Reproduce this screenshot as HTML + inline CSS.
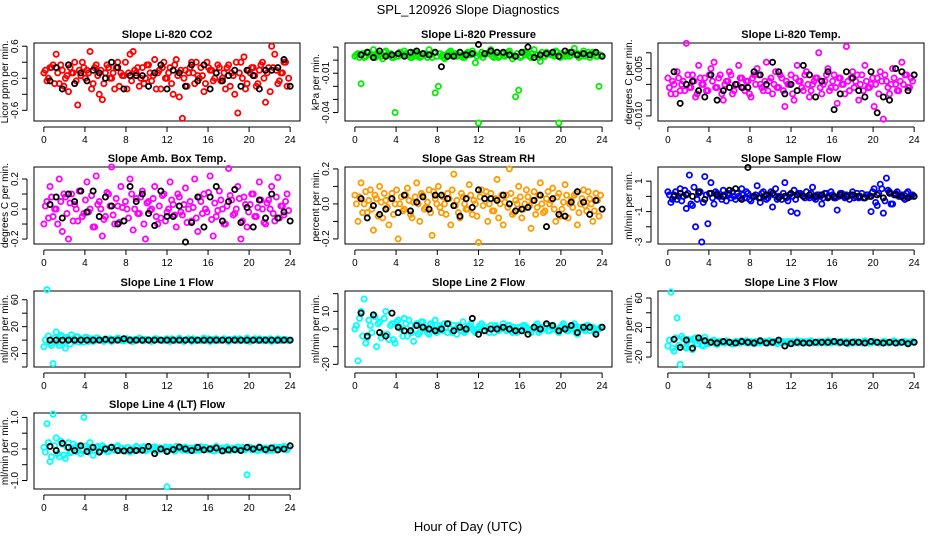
<!DOCTYPE html>
<html><head><meta charset="utf-8"><style>
body{margin:0;background:#fff}
svg{display:block;font-family:"Liberation Sans",sans-serif}
</style></head><body>
<svg id="chart" width="936" height="540" viewBox="0 0 936 540">
<text x="468" y="14" text-anchor="middle" font-size="13">SPL_120926  Slope Diagnostics</text>
<text x="468" y="531" text-anchor="middle" font-size="13">Hour of Day (UTC)</text>
</svg>
<script>
const hoursC=[0,0.3,0.6,0.9,1.2,1.5,1.8,2.1,2.4,2.7,3,3.3,3.6,3.9,4.2,4.5,4.8,5.1,5.4,5.7,6,6.3,6.6,6.9,7.2,7.5,7.8,8.1,8.4,8.7,9,9.3,9.6,9.9,10.2,10.5,10.8,11.1,11.4,11.7,12,12.3,12.6,12.9,13.2,13.5,13.8,14.1,14.4,14.7,15,15.3,15.6,15.9,16.2,16.5,16.8,17.1,17.4,17.7,18,18.3,18.6,18.9,19.2,19.5,19.8,20.1,20.4,20.7,21,21.3,21.6,21.9,22.2,22.5,22.8,23.1,23.4,23.7];
const hoursC2=[0.15,0.45,0.75,1.05,1.35,1.65,1.95,2.25,2.55,2.85,3.15,3.45,3.75,4.05,4.35,4.65,4.95,5.25,5.55,5.85,6.15,6.45,6.75,7.05,7.35,7.65,7.95,8.25,8.55,8.85,9.15,9.45,9.75,10.05,10.35,10.65,10.95,11.25,11.55,11.85,12.15,12.45,12.75,13.05,13.35,13.65,13.95,14.25,14.55,14.85,15.15,15.45,15.75,16.05,16.35,16.65,16.95,17.25,17.55,17.85,18.15,18.45,18.75,19.05,19.35,19.65,19.95,20.25,20.55,20.85,21.15,21.45,21.75,22.05,22.35,22.65,22.95,23.25,23.55,23.85];
const hoursK=[0.6,1.2,1.8,2.4,3,3.6,4.2,4.8,5.4,6,6.6,7.2,7.8,8.4,9,9.6,10.2,10.8,11.4,12,12.6,13.2,13.8,14.4,15,15.6,16.2,16.8,17.4,18,18.6,19.2,19.8,20.4,21,21.6,22.2,22.8,23.4,24];
const xTicks=[0,4,8,12,16,20,24];

const co2C=[0.1,-0.05,0.2,0.25,0.45,-0.1,0.15,0,-0.25,0.1,0.3,-0.5,0.05,0.2,0.15,0.5,-0.1,0.25,-0.3,-0.4,0.1,0.2,0,-0.2,0.3,0.1,0.05,-0.2,0.45,0.5,0.1,-0.15,0.2,0,0.25,-0.05,0.35,0.1,-0.2,0.3,0,0.2,-0.3,0.35,-0.35,-0.75,0.15,0.1,0.3,-0.1,0.05,0.2,-0.25,0.3,0.15,-0.05,0.1,0.2,0,-0.2,0.25,0.1,-0.3,-0.65,0.3,0.4,-0.1,0.1,0.2,-0.15,0.15,0.3,-0.45,0.2,0.6,0.45,-0.1,0.1,0.3,-0.15];
const co2C2=[0.15,0,0.2,-0.1,0.1,0.25,-0.15,0.05,0.2,0.1,-0.05,0.15,0.3,0,0.1,-0.2,0.2,0.05,0.15,-0.1,0.25,0,0.1,0.2,-0.15,0.05,0.3,0.1,-0.05,0.15,0.2,0,-0.1,0.25,0.1,0.05,-0.2,0.15,0.2,0,0.1,-0.1,0.25,0.05,0.15,0,-0.15,0.2,0.1,0.3,0,0.05,-0.1,0.2,0.15,0,0.25,-0.05,0.1,0.2,-0.15,0.05,0.3,0.1,0,-0.2,0.15,0.2,0.05,-0.1,0.25,0,0.1,-0.25,0.2,0.15,-0.05,0.1,0.3,0];
const co2K=[-0.05,0.2,-0.2,0.25,-0.1,0.1,-0.05,0.15,0.1,0,0.3,0.2,-0.2,0.05,0.05,0.05,-0.15,0.1,0.25,-0.2,0.15,0.1,-0.15,0.25,-0.05,0.25,-0.2,0.1,-0.05,0.05,0.15,-0.15,0.15,0.05,-0.2,0.15,0.15,0.2,0.35,-0.15];
const presC=[3,5,-18,2,6,4,8,3,5,1,7,4,2,-40,3,5,7,4,2,6,3,2,5,4,8,2,-25,-20,3,1,5,7,4,3,6,2,5,4,7,-2,-48,6,4,5,8,2,6,3,5,4,7,1,-28,-23,3,6,5,2,8,4,-1,3,6,5,4,7,-48,5,3,6,4,9,5,3,7,4,2,6,3,-20];
const presC2=[4,2,5,3,6,4,2,5,3,6,4,5,2,3,6,4,5,3,2,6,4,3,5,2,4,6,3,5,4,2,6,3,5,4,3,2,6,4,5,3,4,2,5,6,3,4,2,5,3,6,4,3,5,2,6,4,3,5,4,2,6,3,5,4,3,6,2,4,5,3,6,4,2,5,3,6,4,5,3,4];
const presK=[4,6,2,7,3,4,5,3,6,7,5,4,6,-5,3,3,6,4,5,12,5,7,6,6,4,3,6,10,2,4,5,6,3,7,6,4,5,4,6,3];
const tempC=[2,-3,0,4,-2,1,13,-1,3,-4,6,0,2,-2,5,7,-1,3,-5,1,4,-3,0,6,2,-2,1,-4,3,5,0,-2,7,1,-3,4,-1,2,-7,0,3,-5,6,1,-2,4,-4,0,2,10,-3,1,5,-1,3,-6,2,0,12,-2,4,1,-5,3,6,-1,0,-7,2,4,-11,1,-3,5,0,-2,7,3,-1,2];
const tempC2=[-1,1,-3,2,0,-2,3,-1,1,-3,2,0,-2,3,1,-1,2,-3,0,1,3,-2,0,2,-1,1,-3,2,0,3,-1,1,-2,2,0,-1,3,-2,1,0,-3,2,1,-1,3,0,-2,1,2,-1,0,3,-2,1,-1,2,0,-3,1,2,-1,3,0,-2,1,-1,2,0,-3,1,3,-1,0,2,-2,1,0,3,-1,1];
const tempK=[4,-6,0,1,-2,-4,3,-5,-2,-1,0,-1,-1,4,3,0,7,4,-3,0,-2,6,3,-4,1,4,-8,-3,4,2,-2,-4,4,-9,-4,-5,5,4,-2,3];
const ambC=[-10,5,15,-5,0,20,-15,8,-20,10,3,-8,12,-3,18,0,-12,22,5,-18,-5,10,28,-10,2,15,-8,0,20,-14,7,-3,12,-20,5,0,15,-10,-6,10,-2,18,3,-12,8,-4,14,0,-8,20,-15,5,10,-2,22,-18,-5,12,0,-10,27,6,-3,15,-20,8,-12,3,10,-5,18,0,-10,6,15,-8,21,2,-4,10];
const ambC2=[2,-6,8,0,-10,5,10,-3,4,-8,0,12,-5,6,-2,9,-12,3,0,-7,11,2,-4,7,-9,1,5,-6,10,0,-3,8,-10,4,-1,7,-5,2,9,-8,0,6,-4,10,-2,3,-9,5,1,-6,8,-3,0,11,-7,4,-1,6,-10,2,9,-4,0,7,-8,3,-2,10,-5,1,6,-9,4,0,-3,8,-6,2,5,-1];
const ambK=[3,8,-6,10,5,12,-2,12,-5,8,2,-10,-8,15,5,10,-3,-11,12,-5,-5,2,-22,-9,8,-12,8,15,-8,5,13,-9,1,-12,6,-6,10,-6,-2,-8];
const rhC=[5,-10,12,0,-5,8,-15,3,10,-8,2,-12,6,0,-20,4,-3,9,-6,1,12,-10,5,-2,8,-18,3,10,-5,0,6,-12,17,2,-8,4,-3,11,-6,0,-22,8,3,-10,6,-4,14,0,-12,5,20,-6,2,10,-8,0,4,-14,7,-2,12,-5,3,0,9,-10,6,-3,11,-8,2,5,-12,0,8,-4,3,-10,6,-7];
const rhC2=[0,4,-5,7,2,-3,5,-7,1,6,-2,3,-6,8,0,-4,5,2,-8,4,0,6,-3,1,-5,7,0,-2,4,-6,3,8,-1,-5,6,0,-3,5,2,-7,4,-1,7,0,-4,3,-8,5,1,-2,6,-5,0,4,-3,8,-1,2,-6,5,0,-4,7,2,-3,4,-7,1,5,0,-2,6,-5,3,-1,7,0,-4,2,5];
const rhK=[3,-8,-1,-6,-3,3,-5,5,-4,1,4,-3,5,5,3,-1,-7,3,-2,8,3,3,2,5,0,-4,-3,-2,2,5,-13,3,-6,-7,1,7,1,-6,2,-3];
const sampC=[3,-4,1,-2,5,0,-8,14,-6,-20,2,-30,13,-18,9,-5,2,0,4,-3,1,3,-2,0,5,-1,2,-3,0,7,-4,3,-2,1,-7,5,0,-2,9,-3,-10,4,-11,2,0,3,-1,6,-2,1,-5,2,0,3,-1,-9,2,0,1,-2,3,0,-1,2,-1,1,-10,5,-6,8,-11,12,3,-5,2,0,1,-2,3,0];
const sampC2=[1,-2,3,0,-3,4,2,-5,6,-2,3,-4,1,2,-1,3,0,-2,1,2,-1,0,2,-1,1,3,-2,0,1,-1,2,0,-1,3,1,-2,0,2,-1,1,0,-2,2,1,-1,0,2,-1,1,0,-1,2,0,1,-1,0,2,-1,0,1,-1,2,0,-1,1,0,3,-4,2,5,-3,4,-5,1,3,0,-1,2,0,1];
const sampK=[0,2,1,0,3,-2,2,1,0,4,5,-2,19,0,-1,1,2,-1,0,2,1,0,1,0,1,-1,0,1,0,1,0,-1,0,1,-1,2,1,0,-1,0];
const l1C=[-10,75,-5,-35,12,-8,5,-12,3,8,-2,5,2,-3,4,0,-2,3,1,-1,2,0,-2,1,3,0,-1,2,1,-2,0,3,-1,1,0,-2,2,1,0,-1,2,-2,1,0,3,-1,0,2,-2,1,0,-1,3,0,-2,1,2,-1,0,1,-2,0,2,1,-1,0,3,-2,0,1,2,-1,0,1,-2,0,2,-1,1,0];
const l1C2=[0,6,-8,3,-4,7,-2,4,-6,2,5,-3,1,4,-2,2,-1,3,0,-2,1,2,-1,0,2,-1,1,0,-2,1,0,2,-1,1,0,-1,2,0,-1,1,0,2,-1,0,1,-2,1,0,2,-1,0,1,-1,2,0,-1,1,0,2,-1,1,0,-1,2,0,-1,1,0,2,-1,0,1,-1,2,0,-1,1,0,1,-1];
const l1K=[0,0,0,0,0,0,0,0,0,1,0,0,2,0,0,0,0,0,0,0,0,0,0,0,0,0,0,0,0,0,0,0,0,0,0,0,0,0,0,0];
const l2C=[0,-18,10,17,-5,2,8,-10,4,-3,10,-6,3,-8,5,0,6,-4,2,-7,3,-2,4,0,-3,2,5,-1,1,3,-2,0,2,-3,1,4,-1,2,0,-2,1,3,-1,0,2,-2,1,0,3,-1,2,-2,0,1,-1,2,0,-2,1,3,-1,0,2,-1,1,0,-2,2,1,-1,0,3,-3,1,0,2,-1,1,-2,0];
const l2C2=[2,6,-4,-8,5,-2,7,3,-5,6,-3,2,-6,4,1,-4,3,5,-2,2,-3,4,1,-2,3,0,-2,2,-1,1,3,-2,0,2,-1,-2,1,3,-1,0,2,-1,1,-2,0,2,-1,1,0,2,-1,1,-2,0,2,1,-1,0,2,-2,1,0,-1,2,0,-1,1,3,-1,0,2,-2,1,0,-1,2,1,-1,0,1];
const l2K=[9,-4,8,-2,-4,9,1,-1,-1,2,1,0,-1,0,3,-1,1,0,6,-3,-1,0,0,1,0,-1,-1,-3,1,0,3,2,-1,0,2,-2,1,1,-3,1];
const l3C=[-5,68,-12,33,-30,5,-8,3,-10,6,2,-4,7,-2,0,3,-3,1,-1,2,0,-2,1,-1,2,0,-1,1,-2,0,1,0,-1,2,-1,0,1,-1,0,1,0,-1,2,0,-1,1,0,-1,0,1,-1,0,2,-1,0,1,-1,0,1,0,-1,1,0,-1,2,0,-1,1,0,-1,1,0,-1,1,0,-1,0,1,-1,0];
const l3C2=[3,-8,6,-4,8,-6,4,-3,5,-2,4,-5,3,-1,2,-2,1,0,-1,1,-2,0,1,-1,0,2,-1,0,1,-1,0,1,-1,0,1,-2,0,1,0,-1,1,0,-1,1,0,-1,2,0,-1,0,1,-1,0,1,0,-1,1,0,-2,0,1,-1,0,1,0,-1,1,0,-1,0,1,-1,0,2,-1,0,1,-1,0,1];
const l3K=[4,-7,3,-8,6,2,0,-1,1,0,-1,1,0,-1,2,-1,0,3,-5,-2,0,-1,-1,0,0,0,1,0,-1,0,0,-1,1,0,-1,0,-1,0,-2,0];
const l4C=[5,80,-40,110,35,-25,15,-30,20,-10,5,8,-15,100,0,20,-20,5,-5,10,0,-8,6,-3,10,2,-5,4,-10,0,8,-3,5,-6,2,0,7,-4,3,0,-120,5,-2,8,0,-4,6,-2,3,-5,0,7,-3,4,0,-6,8,-2,3,-5,2,0,-4,6,2,-3,-82,5,0,-4,7,-2,3,0,-5,6,-1,4,8,-3];
const l4C2=[-10,20,-25,10,-15,25,-20,5,-12,15,-8,10,-5,8,-10,6,-4,8,-6,3,-8,5,-2,7,-5,2,-7,4,0,-6,5,-3,7,-2,0,5,-6,3,-1,6,-4,2,-7,3,0,5,-5,2,-2,6,-4,0,5,-3,2,-6,4,0,-2,6,-5,3,0,-4,5,-2,6,-3,1,-5,4,0,-6,3,2,-4,5,0,-2,4];
const l4K=[8,-5,18,5,-5,10,-8,5,-10,0,5,-5,-6,-4,-5,-4,8,-15,0,-8,-2,6,0,-5,5,-3,0,3,-6,-3,-2,-5,5,0,5,-2,3,-3,0,10];

const cols=[[34,300],[345,612],[658,924]];
const rows=[[43,121],[167,244],[291,367],[413,489]];
const panels=[
 {title:"Slope Li-820 CO2",ylab:"Licor ppm per min.",r:0,c:0,ymin:-0.8,ymax:0.66,scale:1,ticks:[-0.6,-0.3,0,0.3,0.6],labels:{"-0.6":"-0.6","0":"0.0","0.6":"0.6"},col:"#ff0000",vc:co2C,vc2:co2C2,vk:co2K,name:"co2"},
 {title:"Slope Li-820 Pressure",ylab:"kPa per min.",r:0,c:1,ymin:-0.0465,ymax:0.0131,scale:0.001,ticks:[0.01,0,-0.01,-0.02,-0.03,-0.04],labels:{"-0.01":"-0.01","-0.04":"-0.04"},col:"#00ee00",vc:presC,vc2:presC2,vk:presK,name:"pressure"},
 {title:"Slope Li-820 Temp.",ylab:"degrees C per min.",r:0,c:2,ymin:-0.0116,ymax:0.0131,scale:0.001,ticks:[0.01,0.005,0,-0.005,-0.01],labels:{"0.005":"0.005","-0.01":"-0.010"},col:"#ff00ff",vc:tempC,vc2:tempC2,vk:tempK,name:"li820-temp"},
 {title:"Slope Amb. Box Temp.",ylab:"degrees C per min.",r:1,c:0,ymin:-0.233,ymax:0.28,scale:0.01,ticks:[0.2,0.1,0,-0.1,-0.2],labels:{"0.2":"0.2","0":"0.0","-0.2":"-0.2"},col:"#ff00ff",vc:ambC,vc2:ambC2,vk:ambK,name:"amb-box-temp"},
 {title:"Slope Gas Stream RH",ylab:"percent per min.",r:1,c:1,ymin:-0.229,ymax:0.211,scale:0.01,ticks:[0.2,0.1,0,-0.1,-0.2],labels:{"0.2":"0.2","0":"0.0","-0.2":"-0.2"},col:"#ff9a00",vc:rhC,vc2:rhC2,vk:rhK,name:"gas-stream-rh"},
 {title:"Slope Sample Flow",ylab:"ml/min per min.",r:1,c:2,ymin:-3.13,ymax:1.93,scale:0.1,ticks:[1,0,-1,-2,-3],labels:{"1":"1","-1":"-1","-3":"-3"},col:"#0000ff",vc:sampC,vc2:sampC2,vk:sampK,name:"sample-flow"},
 {title:"Slope Line 1 Flow",ylab:"ml/min per min.",r:2,c:0,ymin:-40,ymax:73,scale:1,ticks:[60,40,20,0,-20,-40],labels:{"60":"60","20":"20","-20":"-20"},col:"#00ffff",vc:l1C,vc2:l1C2,vk:l1K,name:"line1-flow"},
 {title:"Slope Line 2 Flow",ylab:"ml/min per min.",r:2,c:1,ymin:-21.5,ymax:21.5,scale:1,ticks:[20,10,0,-10,-20],labels:{"10":"10","0":"0","-20":"-20"},col:"#00ffff",vc:l2C,vc2:l2C2,vk:l2K,name:"line2-flow"},
 {title:"Slope Line 3 Flow",ylab:"ml/min per min.",r:2,c:2,ymin:-33.5,ymax:69.5,scale:1,ticks:[60,40,20,0,-20],labels:{"60":"60","20":"20","-20":"-20"},col:"#00ffff",vc:l3C,vc2:l3C2,vk:l3K,name:"line3-flow"},
 {title:"Slope Line 4 (LT) Flow",ylab:"ml/min per min.",r:3,c:0,ymin:-1.27,ymax:1.14,scale:0.01,ticks:[1,0.5,0,-0.5,-1],labels:{"1":"1.0","0":"0.0","-1":"-1.0"},col:"#00ffff",vc:l4C,vc2:l4C2,vk:l4K,name:"line4-flow"}
];
const NS="http://www.w3.org/2000/svg";
const svg=document.getElementById('chart');
function mk(tag,attrs,parent){const e=document.createElementNS(NS,tag);for(const k in attrs)e.setAttribute(k,attrs[k]);(parent||svg).appendChild(e);return e;}
panels.forEach(p=>{
 const [x0,x1]=cols[p.c],[y0,y1]=rows[p.r];
 const g=mk('g',{});
 
 
 const xs=h=>x0+(h+0.96)/25.92*(x1-x0);
 const ys=v=>y1-(v-p.ymin)/(p.ymax-p.ymin)*(y1-y0);
 const box=mk('rect',{x:x0,y:y0,width:x1-x0,height:y1-y0,fill:'none',stroke:'#000','stroke-width':1},g);
 
 
 const t=mk('text',{x:(x0+x1)/2,y:y0-5,'text-anchor':'middle','font-size':11,'font-weight':'bold'},g);t.textContent=p.title;
 
 
 mk('line',{x1:xs(0),x2:xs(24),y1:y1+6,y2:y1+6,stroke:'#000'},g);
 xTicks.forEach(v=>{mk('line',{x1:xs(v),x2:xs(v),y1:y1+6,y2:y1+11,stroke:'#000'},g);
  const l=mk('text',{x:xs(v),y:y1+22,'text-anchor':'middle','font-size':10},g);l.textContent=v;
  
  });
 const ax=x0-7;
 mk('line',{x1:ax,x2:ax,y1:ys(p.ticks[0]),y2:ys(p.ticks[p.ticks.length-1]),stroke:'#000'},g);
 p.ticks.forEach(v=>{const yy=ys(v);mk('line',{x1:ax-5,x2:ax,y1:yy,y2:yy,stroke:'#000'},g);
  const key=String(v);if(p.labels[key]!==undefined){const l=mk('text',{x:ax-9,y:yy,'text-anchor':'middle','font-size':10,transform:`rotate(-90 ${ax-9} ${yy})`},g);l.textContent=p.labels[key];
  
  }});
 const yl=mk('text',{x:x0-26,y:(y0+y1)/2,'text-anchor':'middle','font-size':10,transform:`rotate(-90 ${x0-26} ${(y0+y1)/2})`},g);yl.textContent=p.ylab;
 
 
 const n2=Math.min(hoursC2.length,p.vc2.length);
 for(let i=0;i<n2;i++){const c=mk('circle',{cx:xs(hoursC2[i]),cy:ys(p.vc2[i]*p.scale),r:2.6,fill:'none',stroke:p.col,'stroke-width':1.8},g);
  
  }
 const n=Math.min(hoursC.length,p.vc.length);
 for(let i=0;i<n;i++){const c=mk('circle',{cx:xs(hoursC[i]),cy:ys(p.vc[i]*p.scale),r:2.6,fill:'none',stroke:p.col,'stroke-width':1.8},g);
  
  }
 const m=Math.min(hoursK.length,p.vk.length);
 for(let i=0;i<m;i++){const c=mk('circle',{cx:xs(hoursK[i]),cy:ys(p.vk[i]*p.scale),r:2.6,fill:'none',stroke:'#000','stroke-width':1.8},g);
  
  }
});
</script>
</body></html>
